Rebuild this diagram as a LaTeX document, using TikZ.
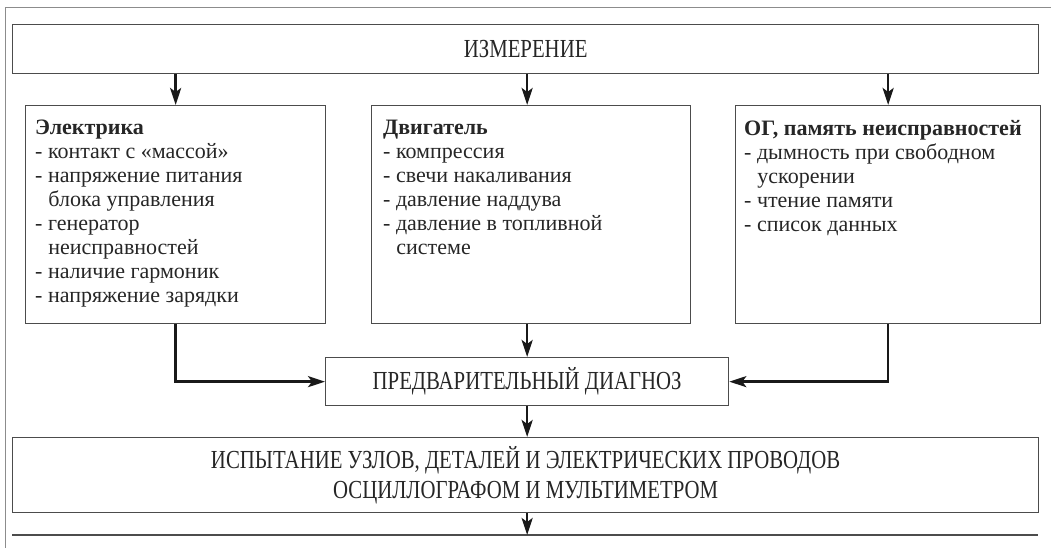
\documentclass[tikz,border=0pt]{standalone}
\usepackage{fontspec}
\setmainfont{Liberation Serif}
\newfontfamily\capsfont[FakeStretch=0.8]{Liberation Serif}
\usetikzlibrary{arrows.meta}
\begin{document}
\begin{tikzpicture}[x=1pt,y=-1pt,
  box/.style={draw=black!70, line width=1.3pt, inner sep=0pt, anchor=north west},
  arr/.style={draw=black!90, line width=2.4pt, -{Stealth[length=17pt,width=11pt,inset=4pt]}},
  capstext/.style={font=\capsfont\fontsize{26}{30}\selectfont, text=black!85, align=center},
  body/.style={font=\fontsize{22}{24}\selectfont, text=black!85, align=left, anchor=north west, inner sep=0pt},
  frameline/.style={draw=black!45, line width=1pt}]
\useasboundingbox (0,0) rectangle (1051,548);
% outer frame
\coordinate (f1) at (1051,8);
\coordinate (f2) at (5,8);
\coordinate (f3) at (5,548);
\draw[frameline] (f1) -- (f2) -- (f3);
% boxes
\node[box, capstext, minimum width=1026pt, minimum height=49pt] (izm) at (12,24) {ИЗМЕРЕНИЕ};
\node[box, minimum width=300pt, minimum height=218pt] (el) at (25,105) {};
\node[box, minimum width=319pt, minimum height=218pt] (dv) at (371,105) {};
\node[box, minimum width=305pt, minimum height=218pt] (og) at (735,105) {};
\node[box, capstext, minimum width=403pt, minimum height=48pt] (diag) at (325,357) {ПРЕДВАРИТЕЛЬНЫЙ ДИАГНОЗ};
\node[box, capstext, minimum width=1026pt, minimum height=75pt] (test) at (12,437) {ИСПЫТАНИЕ УЗЛОВ, ДЕТАЛЕЙ И ЭЛЕКТРИЧЕСКИХ ПРОВОДОВ\\ОСЦИЛЛОГРАФОМ И МУЛЬТИМЕТРОМ};
% box texts
\node[body] (elt) at ([xshift=10pt,yshift=-15pt]el.north west) {\textbf{Электрика}\\
- контакт с «массой»\\
- напряжение питания\\
\hspace*{0.6em}блока управления\\
- генератор\\
\hspace*{0.6em}неисправностей\\
- наличие гармоник\\
- напряжение зарядки};
\node[body] (dvt) at ([xshift=12pt,yshift=-15pt]dv.north west) {\textbf{Двигатель}\\
- компрессия\\
- свечи накаливания\\
- давление наддува\\
- давление в топливной\\
\hspace*{0.6em}системе};
\node[body] (ogt) at ([xshift=9pt,yshift=-15pt]og.north west) {\textbf{ОГ, память неисправностей}\\
- дымность при свободном\\
\hspace*{0.6em}ускорении\\
- чтение памяти\\
- список данных};
% next box edge
\coordinate (nb1) at (12,535);
\coordinate (nb2) at (1038,535);
\draw[draw=black!70, line width=1.3pt] (nb1) -- (nb2);
% connectors
\draw[arr] (izm.south -| el.north) -- (el.north);
\draw[arr] (izm.south -| diag.north) -- (diag.north |- dv.north);
\draw[arr] (izm.south -| og.north) -- (og.north);
\draw[arr] (dv.south -| diag.north) -- (diag.north);
\draw[arr] (el.south) |- (diag.west);
\draw[arr] (og.south) |- (diag.east);
\draw[arr] (diag.south) -- (diag.south |- test.north);
\draw[arr] (diag.south |- test.south) -- (diag.south |- nb1);
\end{tikzpicture}
\end{document}
